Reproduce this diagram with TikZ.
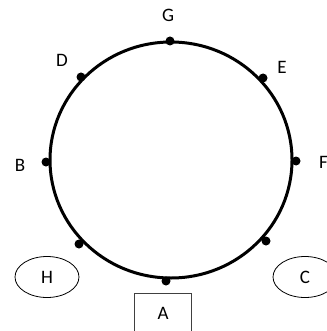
\documentclass[tikz,border=0pt]{standalone}
\usepackage{fontspec}
\setmainfont{Carlito}
\usetikzlibrary{shapes.geometric}

\begin{document}
\begin{tikzpicture}[
      x=1pt, y=-1pt,
      ring/.style={line width=3pt},
      pin/.style={circle, fill, inner sep=0pt, minimum size=9pt},
      lbl/.style={inner sep=0pt, font=\fontsize{19}{21}\selectfont},
      oval/.style={ellipse, draw, line width=0.8pt, inner sep=0pt, minimum width=64pt, minimum height=41pt, font=\fontsize{19}{21}\selectfont},
      seat/.style={draw=black!75, line width=0.8pt, inner sep=0pt, minimum width=57pt, minimum height=44pt}
    ]
    \useasboundingbox (0,0) rectangle (326,331);
    % Table
    \draw[ring] (171,160) ellipse [x radius=121, y radius=118];
    % Seats on the table
    \node[pin] (g) at (170,41) {};
    \node[pin] (d) at (81,77) {};
    \node[pin] (e) at (263,78) {};
    \node[pin] (f) at (296,161) {};
    \node[pin] (b) at (46,162) {};
    \node[pin] (h) at (79,244) {};
    \node[pin] (c) at (266,241) {};
    \node[pin] (a) at (166,281) {};
    % Labels
    \node[lbl] (gl) at (168,15) {G};
    \node[lbl] (dl) at (62,60) {D};
    \node[lbl] (el) at (282,67) {E};
    \node[lbl, anchor=west] (fl) at (319,162) {F};
    \node[lbl] (bl) at (20,165) {B};
    \node[oval] (hl) at (47,277) {H};
    \node[oval] (cl) at (305,277) {C};
    \node[seat, anchor=north] (abox) at (162.5,293) {};
    \node[lbl] (al) at (163,313) {A};
  \end{tikzpicture}
\end{document}
